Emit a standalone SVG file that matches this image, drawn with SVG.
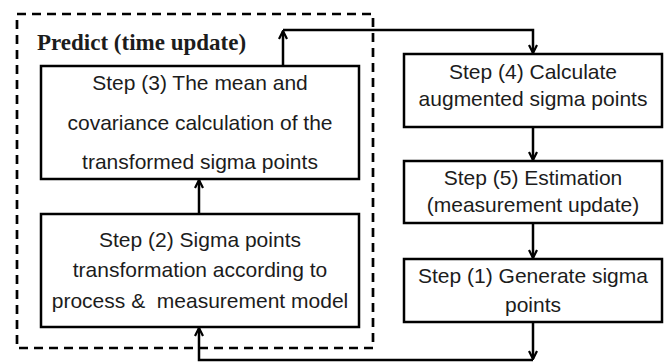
<svg xmlns="http://www.w3.org/2000/svg" width="671" height="362" viewBox="0 0 671 362">
<defs>
<style>
.box{fill:#fff;stroke:#000;stroke-width:2.5}
.t{font-family:"Liberation Sans",Arial,sans-serif;font-size:21px;fill:#1c1c1c;text-anchor:middle}
.c{fill:none;stroke:#000;stroke-width:2.5}
</style>
<marker id="ah" viewBox="0 0 10 10" refX="9" refY="5" markerWidth="10" markerHeight="10" markerUnits="userSpaceOnUse" orient="auto">
<path d="M1,1 L9,5 L1,9" fill="none" stroke="#000" stroke-width="2.2"/>
</marker>
</defs>
<rect width="671" height="362" fill="#fff"/>
<g id="predict-group">
<rect x="17" y="14" width="356" height="334" fill="none" stroke="#000" stroke-width="2.7" stroke-dasharray="9 6"/>
<text x="37" y="50" font-family="Liberation Serif,'Times New Roman',serif" font-size="23" font-weight="bold" fill="#1c1c1c">Predict (time update)</text>
</g>
<g id="connectors">
<path class="c" d="M283,66 V31" marker-end="url(#ah)"/>
<path class="c" d="M283,30 H533 V53" marker-end="url(#ah)"/>
<path class="c" d="M533,127 V160" marker-end="url(#ah)"/>
<path class="c" d="M533,223 V258" marker-end="url(#ah)"/>
<path class="c" d="M533,322 V359" marker-end="url(#ah)"/>
<path class="c" d="M533,360 H199 V328" marker-end="url(#ah)"/>
<path class="c" d="M199,214 V180" marker-end="url(#ah)"/>
</g>
<g id="step3">
<rect class="box" x="41" y="66" width="318" height="113"/>
<text class="t" x="200" y="90">Step (3) The mean and</text>
<text class="t" x="200" y="130">covariance calculation of the</text>
<text class="t" x="200" y="169">transformed sigma points</text>
</g>
<g id="step2">
<rect class="box" x="41" y="214" width="318" height="113"/>
<text class="t" x="200" y="247">Step (2) Sigma points</text>
<text class="t" x="200" y="277">transformation according to</text>
<text class="t" x="200" y="308" xml:space="preserve">process &amp;  measurement model</text>
</g>
<g id="step4">
<rect class="box" x="404" y="54" width="258" height="73"/>
<text class="t" x="533" y="79">Step (4) Calculate</text>
<text class="t" x="533" y="106">augmented sigma points</text>
</g>
<g id="step5">
<rect class="box" x="404" y="161" width="258" height="62"/>
<text class="t" x="533" y="185">Step (5) Estimation</text>
<text class="t" x="533" y="212">(measurement update)</text>
</g>
<g id="step1">
<rect class="box" x="404" y="259" width="258" height="63"/>
<text class="t" x="533" y="283">Step (1) Generate sigma</text>
<text class="t" x="533" y="312">points</text>
</g>
</svg>
